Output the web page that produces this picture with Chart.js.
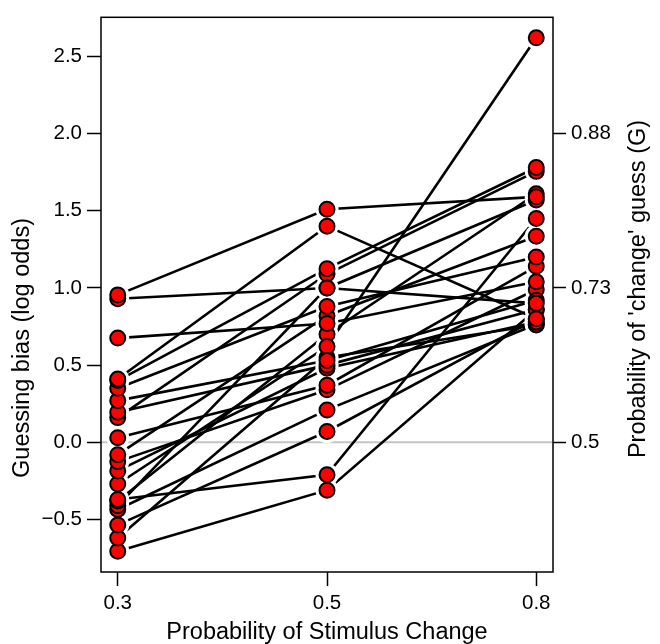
<!DOCTYPE html>
<html>
<head>
<meta charset="utf-8">
<script src="https://cdn.jsdelivr.net/npm/chart.js@4"></script>
<style>
  html, body { margin: 0; padding: 0; background: #fff; }
  #wrap { width: 660px; height: 644px; }
</style>
</head>
<body>
<div id="wrap"><canvas id="biasChart" width="660" height="644"></canvas></div>
<script>
// condition labels on the x axis
const conditions = ['0.3', '0.5', '0.8'];

// guessing bias (log odds) per subject, one array per condition
const bias03 = [0.955, 0.93, 0.675, 0.41, 0.40, 0.35, 0.27, 0.195, 0.16, 0.03, -0.08,
                -0.125, -0.185, -0.27, -0.37, -0.38, -0.41, -0.435, -0.535, -0.62, -0.705];
const bias05 = [1.51, 1.00, 0.77, 1.40, 1.125, 0.88, 0.53, 0.50, 1.09, 0.37, 0.82,
                0.34, 0.48, 0.62, -0.21, 0.70, 1.00, 0.21, 0.07, 0.55, -0.31];
const bias08 = [1.59, 0.90, 1.04, 0.80, 1.78, 1.20, 0.92, 0.86, 1.755, 1.14, 1.335,
                0.99, 0.78, 2.62, 1.45, 1.61, 1.57, 0.765, 0.80, 0.76, 0.86];

// left axis ticks (log odds) and right axis ticks (probability)
const leftTicks = [-0.5, 0, 0.5, 1, 1.5, 2, 2.5];
const leftTickLabels = ['\u22120.5', '0.0', '0.5', '1.0', '1.5', '2.0', '2.5'];
const rightTicks = [0, 1, 2];
const rightTickLabels = ['0.5', '0.73', '0.88'];

const FONT = '"Liberation Sans", Arial, Helvetica, sans-serif';

const datasets = [];
bias03.forEach(function(v, i) {
    const pts = [{ x: 1, y: v }, { x: 2, y: bias05[i] }, { x: 3, y: bias08[i] }];
    // connecting line
    datasets.push({
        data: pts,
        order: 2,
        borderColor: '#000',
        borderWidth: 2.6,
        pointRadius: 0,
        fill: false,
        tension: 0
    });
    // white halo so lines stop short of the markers (like R type="b")
    datasets.push({
        data: pts,
        order: 1,
        showLine: false,
        pointRadius: 11.5,
        pointBackgroundColor: '#fff',
        pointBorderWidth: 0,
        pointBorderColor: '#fff'
    });
    datasets.push({
        data: pts,
        order: 0,
        showLine: false,
        pointRadius: 7.5,
        pointBackgroundColor: '#ff0000',
        pointBorderColor: '#000',
        pointBorderWidth: 2
    });
});

const framePlugin = {
    id: 'frame',
    beforeDatasetsDraw(chart) {
        const { ctx, chartArea, scales } = chart;
        const y0 = scales.y.getPixelForValue(0);
        ctx.save();
        ctx.strokeStyle = '#c4c4c4';
        ctx.lineWidth = 2;
        ctx.beginPath();
        ctx.moveTo(chartArea.left, y0);
        ctx.lineTo(chartArea.right, y0);
        ctx.stroke();
        ctx.restore();
    },
    afterDraw(chart) {
        const { ctx, chartArea } = chart;
        ctx.save();
        ctx.strokeStyle = '#000';
        ctx.lineWidth = 1.5;
        ctx.strokeRect(chartArea.left, chartArea.top, chartArea.right - chartArea.left, chartArea.bottom - chartArea.top);

        ctx.fillStyle = '#000';
        ctx.font = '23.5px ' + FONT;
        ctx.textAlign = 'center';
        ctx.textBaseline = 'middle';
        const midX = (chartArea.left + chartArea.right) / 2;
        ctx.fillText('Probability of Stimulus Change', midX, 633);

        ctx.save();
        ctx.translate(23, 348);
        ctx.rotate(-Math.PI / 2);
        ctx.fillText('Guessing bias (log odds)', 0, 0);
        ctx.restore();

        ctx.save();
        ctx.translate(639, 289);
        ctx.rotate(-Math.PI / 2);
        ctx.fillText("Probability of 'change' guess (G)", 0, 0);
        ctx.restore();
        ctx.restore();
    }
};

new Chart(document.getElementById('biasChart'), {
    type: 'line',
    data: { datasets: datasets },
    options: {
        responsive: false,
        animation: false,
        layout: { padding: { top: 11, left: 0, right: 0, bottom: 0 } },
        plugins: { legend: { display: false }, tooltip: { enabled: false } },
        scales: {
            x: {
                type: 'linear',
                min: 0.92,
                max: 3.08,
                afterBuildTicks: function(scale) {
                    scale.ticks = [1, 2, 3].map(function(v) { return { value: v }; });
                },
                afterFit: function(scale) { scale.height = 72; },
                border: { display: false },
                grid: { drawOnChartArea: false, drawTicks: true, tickLength: 14, tickWidth: 1.5, tickColor: '#000' },
                ticks: {
                    color: '#000',
                    font: { family: FONT, size: 20.5 },
                    padding: 5,
                    maxRotation: 0,
                    autoSkip: false,
                    callback: function(value, index) { return conditions[index]; }
                }
            },
            y: {
                type: 'linear',
                position: 'left',
                min: -0.84,
                max: 2.753,
                afterBuildTicks: function(scale) {
                    scale.ticks = leftTicks.map(function(v) { return { value: v }; });
                },
                afterFit: function(scale) { scale.width = 101; },
                border: { display: false },
                grid: { drawOnChartArea: false, drawTicks: true, tickLength: 14, tickWidth: 1.5, tickColor: '#000' },
                ticks: {
                    color: '#000',
                    font: { family: FONT, size: 20.5 },
                    padding: 5,
                    autoSkip: false,
                    callback: function(value, index) { return leftTickLabels[index]; }
                }
            },
            y2: {
                type: 'linear',
                position: 'right',
                min: -0.84,
                max: 2.753,
                afterBuildTicks: function(scale) {
                    scale.ticks = rightTicks.map(function(v) { return { value: v }; });
                },
                afterFit: function(scale) { scale.width = 107; },
                border: { display: false },
                grid: { drawOnChartArea: false, drawTicks: true, tickLength: 13, tickWidth: 1.5, tickColor: '#000' },
                ticks: {
                    color: '#000',
                    font: { family: FONT, size: 20.5 },
                    padding: 5,
                    autoSkip: false,
                    callback: function(value, index) { return rightTickLabels[index]; }
                }
            }
        }
    },
    plugins: [framePlugin]
});
</script>
</body>
</html>
